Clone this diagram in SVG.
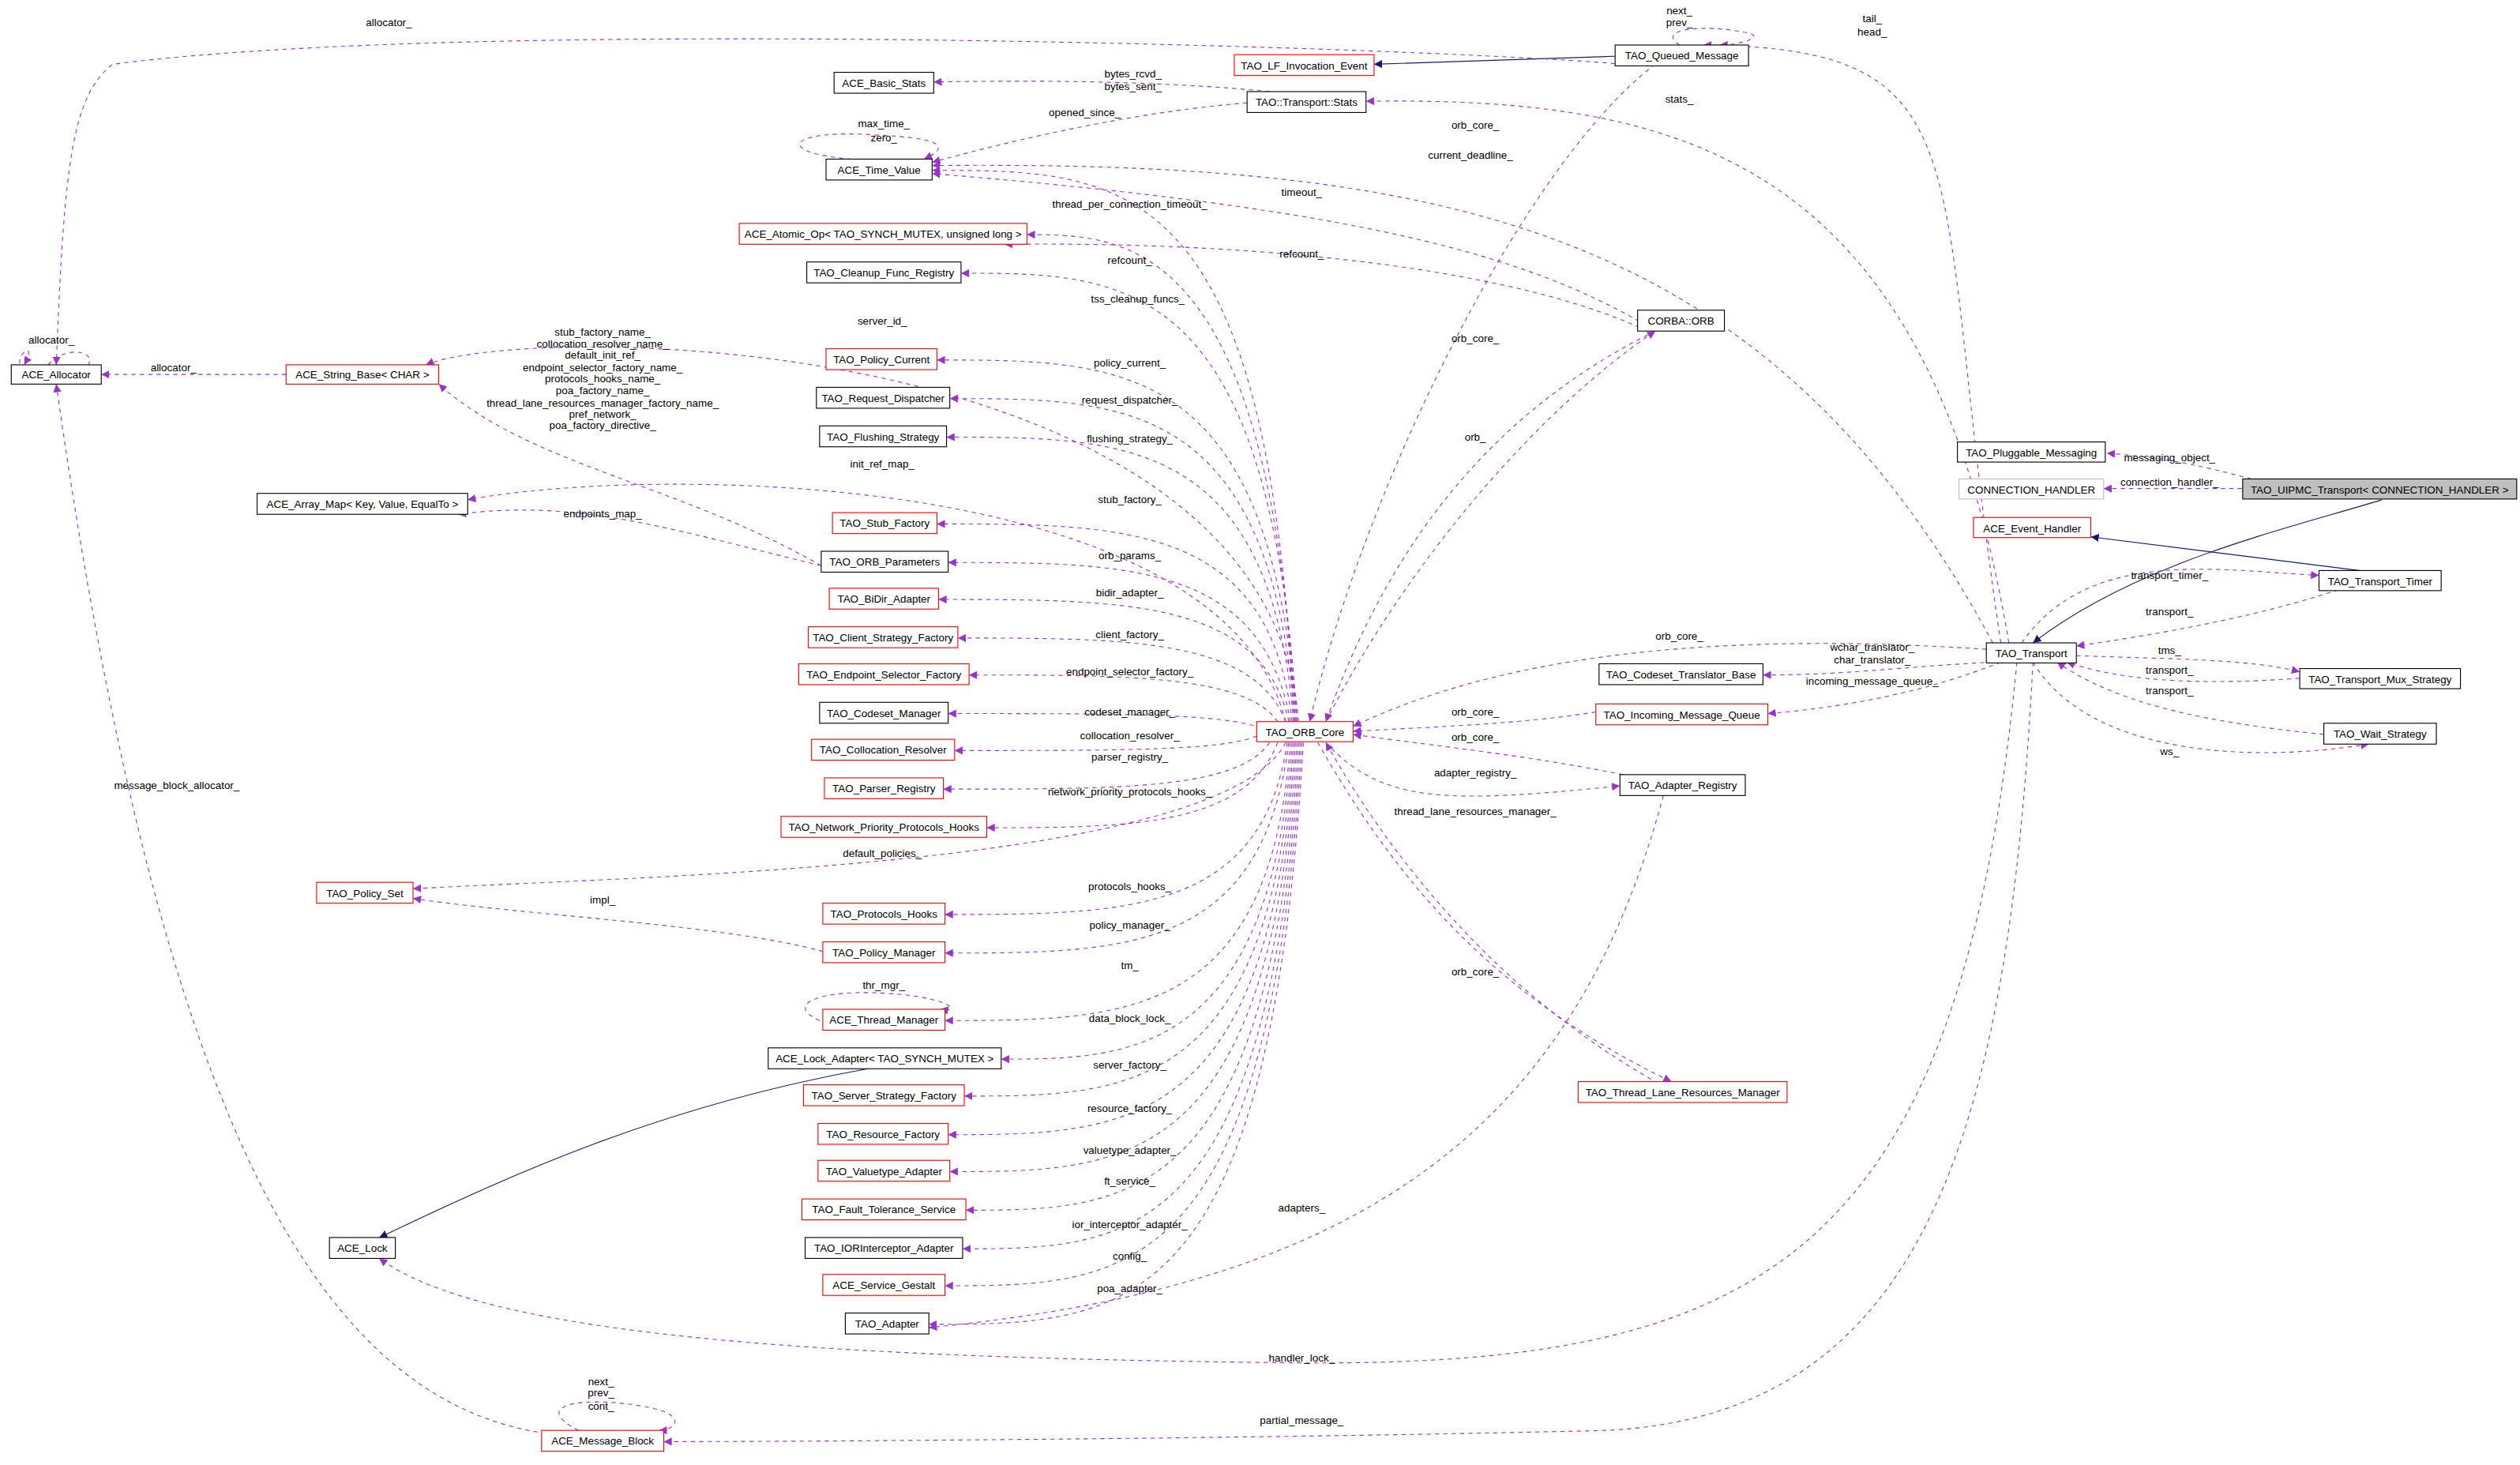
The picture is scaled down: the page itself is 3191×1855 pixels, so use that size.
<svg xmlns="http://www.w3.org/2000/svg" width="3191" height="1855" viewBox="0 0 3191 1855">
<style>
.n rect{fill:#fff;stroke:#000;stroke-width:0.55}
.r rect{stroke:#f00}
.g rect{stroke:#bfbfbf}
text{font-family:"Liberation Sans Narrow","Liberation Sans",Arial,sans-serif;font-size:6.6px;fill:#000;text-anchor:middle}
.e path{fill:none;stroke:#9a32cd;stroke-width:0.55;stroke-dasharray:2.6,2.6;marker-end:url(#mp)}
.e path.i{stroke:#191970;stroke-dasharray:none;marker-end:url(#mb)}
</style>
<defs>
<marker id="mp" viewBox="0 0 10 10" refX="10" refY="5" markerUnits="userSpaceOnUse" markerWidth="5" markerHeight="5" orient="auto"><path d="M0,0 L10,5 L0,10 z" fill="#9a32cd"/></marker>
<marker id="mb" viewBox="0 0 10 10" refX="10" refY="5" markerUnits="userSpaceOnUse" markerWidth="5" markerHeight="5" orient="auto"><path d="M0,0 L10,5 L0,10 z" fill="#191970"/></marker>
</defs>
<rect width="3191" height="1855" fill="#fff"/>
<g transform="scale(2.035)">
<g id="edges" class="e">
<path class="i" d="M1005,35 L855,40"/>
<path class="i" d="M1482,311 C1420,330 1330,350 1265,400"/>
<path class="i" d="M1468,355 L1301,334"/>
<path class="i" d="M540,665 C400,690 300,740 236,770"/>
<path d="M805,449 C790,106 700,106 580,106"/>
<path d="M806,449 C790,146 700,146 639,146"/>
<path d="M807,449 C790,170 700,170 598,170"/>
<path d="M808,449 C790,205 330,200 265,227"/>
<path d="M807,449 C790,224 700,224 583,224"/>
<path d="M806,449 C790,248 700,248 591,248"/>
<path d="M805,449 C790,272 700,272 589,272"/>
<path d="M800,449 C760,290 400,290 291,311"/>
<path d="M804,449 C790,326 700,326 583,326"/>
<path d="M803,449 C785,350 700,350 590,350"/>
<path d="M802,449 C785,373 700,373 584,373"/>
<path d="M800,449 C780,397 700,397 596,397"/>
<path d="M795,449 C775,420 700,420 603,420"/>
<path d="M785,453 C760,444 700,444 590,444"/>
<path d="M782,458 C760,467 700,467 594,467"/>
<path d="M790,462 C770,491 700,491 587,491"/>
<path d="M795,462 C775,515 700,515 614,515"/>
<path d="M800,462 C760,540 400,545 257,553"/>
<path d="M801,462 C785,569 700,569 588,569"/>
<path d="M802,462 C785,593 700,593 588,593"/>
<path d="M803,462 C790,635 700,635 588,635"/>
<path d="M804,462 C790,659 700,659 623,659"/>
<path d="M805,462 C790,682 700,682 600,682"/>
<path d="M806,462 C790,706 700,706 590,706"/>
<path d="M807,462 C790,729 700,729 591,729"/>
<path d="M808,462 C790,753 700,753 601,753"/>
<path d="M809,462 C790,777 700,777 599,777"/>
<path d="M810,462 C790,800 700,800 588,800"/>
<path d="M811,462 C790,824 700,824 578,824"/>
<path d="M1035,495 C980,700 850,800 578,826"/>
<path d="M511,352 C420,300 330,290 273,239"/>
<path d="M511,352 C420,330 360,310 285,320"/>
<path d="M512,592 C450,575 330,570 257,559"/>
<path d="M530,641 C480,630 500,615 550,618 C590,620 600,630 585,628"/>
<path d="M776,64 C700,70 620,90 580,101"/>
<path d="M790,57 C720,50 640,50 581,51"/>
<path d="M1020,200 C950,160 850,130 580,108"/>
<path d="M1240,400 C1100,140 900,100 580,103"/>
<path d="M530,99 C480,95 490,80 545,84 C590,86 590,92 575,99"/>
<path d="M1025,206 C950,170 800,150 625,152"/>
<path d="M1010,40 C900,30 300,10 70,40 C45,60 40,100 35,227"/>
<path d="M30,227 C40,215 60,218 55,227 M15,236 C5,220 25,210 15,227"/>
<path d="M178,233 L63,233"/>
<path d="M350,893 C200,880 100,700 35,239"/>
<path d="M1045,28 C1030,18 1060,15 1085,20 C1100,22 1085,28 1070,28"/>
<path d="M1245,400 C1200,100 1240,30 1060,28"/>
<path d="M1250,400 C1200,100 1050,60 850,63"/>
<path d="M1030,40 C950,100 850,300 815,449"/>
<path d="M1030,206 C920,260 860,350 825,449"/>
<path d="M825,449 C870,360 950,260 1030,206"/>
<path d="M1236,404 C1100,395 950,400 842,452"/>
<path d="M993,443 C950,450 900,452 842,455"/>
<path d="M1010,482 C950,470 900,465 842,457"/>
<path d="M825,462 C860,500 900,500 1008,489"/>
<path d="M1055,686 C960,640 880,560 825,462"/>
<path d="M820,462 C870,550 930,620 1040,673"/>
<path d="M1240,412 C1180,415 1150,420 1097,420"/>
<path d="M1245,412 C1200,430 1150,440 1100,444"/>
<path d="M1255,412 C1220,780 1100,850 810,848 C500,845 300,830 236,783"/>
<path d="M1265,412 C1250,700 1200,880 1000,890 C800,895 500,897 413,897"/>
<path d="M360,890 C330,875 360,868 400,875 C430,880 420,890 410,890"/>
<path d="M1401,298 C1370,290 1350,285 1311,282"/>
<path d="M1395,304 L1309,304"/>
<path d="M1258,400 C1300,340 1380,355 1443,358"/>
<path d="M1455,367 C1400,385 1340,395 1292,402"/>
<path d="M1292,408 C1350,410 1400,410 1431,418"/>
<path d="M1431,422 C1350,428 1310,420 1286,412"/>
<path d="M1446,457 C1380,450 1320,440 1280,412"/>
<path d="M1265,412 C1300,470 1400,475 1474,463"/>
</g>
<g id="labels">
<text x="242" y="16">allocator_</text>
<text x="1045" y="9">next_</text><text x="1045" y="16">prev_</text>
<text x="1165" y="14">tail_</text><text x="1165" y="22">head_</text>
<text x="705" y="48">bytes_rcvd_</text><text x="705" y="56">bytes_sent_</text>
<text x="1045" y="64">stats_</text>
<text x="675" y="72">opened_since_</text>
<text x="550" y="79">max_time_</text><text x="550" y="88">zero_</text>
<text x="918" y="80">orb_core_</text>
<text x="915" y="99">current_deadline_</text>
<text x="810" y="122">timeout_</text>
<text x="703" y="129">thread_per_connection_timeout_</text>
<text x="810" y="160">refcount_</text>
<text x="703" y="164">refcount_</text>
<text x="708" y="188">tss_cleanup_funcs_</text>
<text x="549" y="202">server_id_</text>
<text x="375" y="209">stub_factory_name_</text>
<text x="375" y="216">collocation_resolver_name_</text>
<text x="375" y="223">default_init_ref_</text>
<text x="375" y="231">endpoint_selector_factory_name_</text>
<text x="375" y="238">protocols_hooks_name_</text>
<text x="375" y="245">poa_factory_name_</text>
<text x="375" y="253">thread_lane_resources_manager_factory_name_</text>
<text x="375" y="260">pref_network_</text>
<text x="375" y="267">poa_factory_directive_</text>
<text x="32" y="214">allocator_</text>
<text x="108" y="231">allocator_</text>
<text x="918" y="213">orb_core_</text>
<text x="703" y="228">policy_current_</text>
<text x="703" y="251">request_dispatcher_</text>
<text x="703" y="275">flushing_strategy_</text>
<text x="918" y="274">orb_</text>
<text x="549" y="291">init_ref_map_</text>
<text x="703" y="313">stub_factory_</text>
<text x="375" y="322">endpoints_map_</text>
<text x="703" y="348">orb_params_</text>
<text x="703" y="371">bidir_adapter_</text>
<text x="703" y="397">client_factory_</text>
<text x="703" y="420">endpoint_selector_factory_</text>
<text x="703" y="445">codeset_manager_</text>
<text x="703" y="460">collocation_resolver_</text>
<text x="703" y="473">parser_registry_</text>
<text x="703" y="495">network_priority_protocols_hooks_</text>
<text x="549" y="533">default_policies_</text>
<text x="703" y="554">protocols_hooks_</text>
<text x="375" y="562">impl_</text>
<text x="703" y="578">policy_manager_</text>
<text x="703" y="603">tm_</text>
<text x="550" y="615">thr_mgr_</text>
<text x="703" y="636">data_block_lock_</text>
<text x="703" y="665">server_factory_</text>
<text x="703" y="692">resource_factory_</text>
<text x="703" y="718">valuetype_adapter_</text>
<text x="703" y="737">ft_service_</text>
<text x="703" y="764">ior_interceptor_adapter_</text>
<text x="703" y="784">config_</text>
<text x="703" y="804">poa_adapter_</text>
<text x="810" y="754">adapters_</text>
<text x="110" y="491">message_block_allocator_</text>
<text x="810" y="847">handler_lock_</text>
<text x="810" y="886">partial_message_</text>
<text x="374" y="862">next_</text><text x="374" y="869">prev_</text><text x="374" y="877">cont_</text>
<text x="1045" y="398">orb_core_</text>
<text x="918" y="445">orb_core_</text>
<text x="918" y="461">orb_core_</text>
<text x="918" y="483">adapter_registry_</text>
<text x="918" y="507">thread_lane_resources_manager_</text>
<text x="918" y="607">orb_core_</text>
<text x="1165" y="405">wchar_translator_</text><text x="1165" y="413">char_translator_</text>
<text x="1165" y="426">incoming_message_queue_</text>
<text x="1350" y="287">messaging_object_</text>
<text x="1350" y="302">connection_handler_</text>
<text x="1350" y="360">transport_timer_</text>
<text x="1350" y="383">transport_</text>
<text x="1350" y="407">tms_</text>
<text x="1350" y="419">transport_</text>
<text x="1350" y="432">transport_</text>
<text x="1350" y="470">ws_</text>
</g>
<g id="TAO_Queued_Message" class="n"><rect x="1005" y="28" width="83" height="13"/><text x="1046.5" y="37">TAO_Queued_Message</text></g>
<g id="TAO_LF_Invocation_Event" class="n r"><rect x="768" y="34" width="87" height="13"/><text x="811.5" y="43">TAO_LF_Invocation_Event</text></g>
<g id="ACE_Basic_Stats" class="n"><rect x="519" y="45" width="62" height="13"/><text x="550" y="54">ACE_Basic_Stats</text></g>
<g id="TAO_Transport_Stats" class="n"><rect x="776" y="57" width="74" height="13"/><text x="813" y="66">TAO::Transport::Stats</text></g>
<g id="ACE_Time_Value" class="n"><rect x="514" y="99" width="66" height="13"/><text x="547" y="108">ACE_Time_Value</text></g>
<g id="ACE_Atomic_Op" class="n r"><rect x="460" y="139" width="179" height="13"/><text x="549.5" y="148">ACE_Atomic_Op&lt; TAO_SYNCH_MUTEX, unsigned long &gt;</text></g>
<g id="TAO_Cleanup_Func_Registry" class="n"><rect x="502" y="163" width="96" height="13"/><text x="550" y="172">TAO_Cleanup_Func_Registry</text></g>
<g id="CORBA_ORB" class="n"><rect x="1019" y="193" width="54" height="13"/><text x="1046" y="202">CORBA::ORB</text></g>
<g id="ACE_Allocator" class="n"><rect x="7" y="227" width="56" height="12"/><text x="35" y="235.5">ACE_Allocator</text></g>
<g id="ACE_String_Base" class="n r"><rect x="178" y="227" width="95" height="12"/><text x="225.5" y="235.5">ACE_String_Base&lt; CHAR &gt;</text></g>
<g id="TAO_Policy_Current" class="n r"><rect x="514" y="217" width="69" height="13"/><text x="548.5" y="226">TAO_Policy_Current</text></g>
<g id="TAO_Request_Dispatcher" class="n"><rect x="508" y="241" width="83" height="13"/><text x="549.5" y="250">TAO_Request_Dispatcher</text></g>
<g id="TAO_Flushing_Strategy" class="n"><rect x="510" y="265" width="79" height="13"/><text x="549.5" y="274">TAO_Flushing_Strategy</text></g>
<g id="ACE_Array_Map" class="n"><rect x="160" y="307" width="131" height="13"/><text x="225.5" y="316">ACE_Array_Map&lt; Key, Value, EqualTo &gt;</text></g>
<g id="TAO_Stub_Factory" class="n r"><rect x="518" y="319" width="65" height="13"/><text x="550.5" y="328">TAO_Stub_Factory</text></g>
<g id="TAO_ORB_Parameters" class="n"><rect x="511" y="343" width="79" height="13"/><text x="550.5" y="352">TAO_ORB_Parameters</text></g>
<g id="TAO_BiDir_Adapter" class="n r"><rect x="516" y="366" width="68" height="13"/><text x="550" y="375">TAO_BiDir_Adapter</text></g>
<g id="TAO_Client_Strategy_Factory" class="n r"><rect x="503" y="390" width="93" height="13"/><text x="549.5" y="399">TAO_Client_Strategy_Factory</text></g>
<g id="TAO_Endpoint_Selector_Factory" class="n r"><rect x="497" y="413" width="106" height="13"/><text x="550" y="422">TAO_Endpoint_Selector_Factory</text></g>
<g id="TAO_Codeset_Manager" class="n"><rect x="510" y="437" width="80" height="13"/><text x="550" y="446">TAO_Codeset_Manager</text></g>
<g id="TAO_Collocation_Resolver" class="n r"><rect x="505" y="460" width="89" height="13"/><text x="549.5" y="469">TAO_Collocation_Resolver</text></g>
<g id="TAO_Parser_Registry" class="n r"><rect x="513" y="484" width="74" height="13"/><text x="550" y="493">TAO_Parser_Registry</text></g>
<g id="TAO_Network_Priority_Protocols_Hooks" class="n r"><rect x="486" y="508" width="128" height="13"/><text x="550" y="517">TAO_Network_Priority_Protocols_Hooks</text></g>
<g id="TAO_Policy_Set" class="n r"><rect x="197" y="549" width="60" height="13"/><text x="227" y="558">TAO_Policy_Set</text></g>
<g id="TAO_Protocols_Hooks" class="n r"><rect x="512" y="562" width="76" height="13"/><text x="550" y="571">TAO_Protocols_Hooks</text></g>
<g id="TAO_Policy_Manager" class="n r"><rect x="512" y="586" width="76" height="13"/><text x="550" y="595">TAO_Policy_Manager</text></g>
<g id="ACE_Thread_Manager" class="n r"><rect x="512" y="628" width="76" height="13"/><text x="550" y="637">ACE_Thread_Manager</text></g>
<g id="ACE_Lock_Adapter" class="n"><rect x="478" y="652" width="145" height="13"/><text x="550.5" y="661">ACE_Lock_Adapter&lt; TAO_SYNCH_MUTEX &gt;</text></g>
<g id="TAO_Server_Strategy_Factory" class="n r"><rect x="500" y="675" width="100" height="13"/><text x="550" y="684">TAO_Server_Strategy_Factory</text></g>
<g id="TAO_Resource_Factory" class="n r"><rect x="509" y="699" width="81" height="13"/><text x="549.5" y="708">TAO_Resource_Factory</text></g>
<g id="TAO_Valuetype_Adapter" class="n r"><rect x="509" y="722" width="82" height="13"/><text x="550" y="731">TAO_Valuetype_Adapter</text></g>
<g id="TAO_Fault_Tolerance_Service" class="n r"><rect x="499" y="746" width="102" height="13"/><text x="550" y="755">TAO_Fault_Tolerance_Service</text></g>
<g id="TAO_IORInterceptor_Adapter" class="n"><rect x="501" y="770" width="98" height="13"/><text x="550" y="779">TAO_IORInterceptor_Adapter</text></g>
<g id="ACE_Service_Gestalt" class="n r"><rect x="512" y="793" width="76" height="13"/><text x="550" y="802">ACE_Service_Gestalt</text></g>
<g id="TAO_Adapter" class="n"><rect x="526" y="817" width="52" height="13"/><text x="552" y="826">TAO_Adapter</text></g>
<g id="ACE_Lock" class="n"><rect x="205" y="770" width="41" height="13"/><text x="225.5" y="779">ACE_Lock</text></g>
<g id="ACE_Message_Block" class="n r"><rect x="337" y="890" width="76" height="13"/><text x="375" y="899">ACE_Message_Block</text></g>
<g id="TAO_ORB_Core" class="n r"><rect x="782" y="449" width="60" height="12.5"/><text x="812" y="458">TAO_ORB_Core</text></g>
<g id="TAO_Codeset_Translator_Base" class="n"><rect x="995" y="413" width="102" height="13"/><text x="1046" y="422">TAO_Codeset_Translator_Base</text></g>
<g id="TAO_Incoming_Message_Queue" class="n r"><rect x="993" y="438" width="107" height="13"/><text x="1046.5" y="447">TAO_Incoming_Message_Queue</text></g>
<g id="TAO_Adapter_Registry" class="n"><rect x="1008" y="482" width="78" height="13"/><text x="1047" y="491">TAO_Adapter_Registry</text></g>
<g id="TAO_Thread_Lane_Resources_Manager" class="n r"><rect x="982" y="673" width="130" height="13"/><text x="1047" y="682">TAO_Thread_Lane_Resources_Manager</text></g>
<g id="TAO_Pluggable_Messaging" class="n"><rect x="1218" y="275" width="92" height="12.5"/><text x="1264" y="284">TAO_Pluggable_Messaging</text></g>
<g id="CONNECTION_HANDLER" class="n g"><rect x="1219" y="298" width="90" height="12.5"/><text x="1264" y="307">CONNECTION_HANDLER</text></g>
<g id="TAO_UIPMC_Transport" class="n"><rect x="1395.5" y="298" width="170.5" height="12.5" style="fill:#bfbfbf"/><text x="1480.7" y="307">TAO_UIPMC_Transport&lt; CONNECTION_HANDLER &gt;</text></g>
<g id="ACE_Event_Handler" class="n r"><rect x="1228" y="322" width="73" height="12.5"/><text x="1264.5" y="331">ACE_Event_Handler</text></g>
<g id="TAO_Transport_Timer" class="n"><rect x="1443" y="355" width="76" height="12.5"/><text x="1481" y="364">TAO_Transport_Timer</text></g>
<g id="TAO_Transport" class="n"><rect x="1236" y="400" width="56" height="12.5"/><text x="1264" y="409">TAO_Transport</text></g>
<g id="TAO_Transport_Mux_Strategy" class="n"><rect x="1431" y="416" width="100" height="12.5"/><text x="1481" y="425">TAO_Transport_Mux_Strategy</text></g>
<g id="TAO_Wait_Strategy" class="n"><rect x="1446" y="450" width="70" height="13"/><text x="1481" y="459">TAO_Wait_Strategy</text></g>
</g>
</svg>
